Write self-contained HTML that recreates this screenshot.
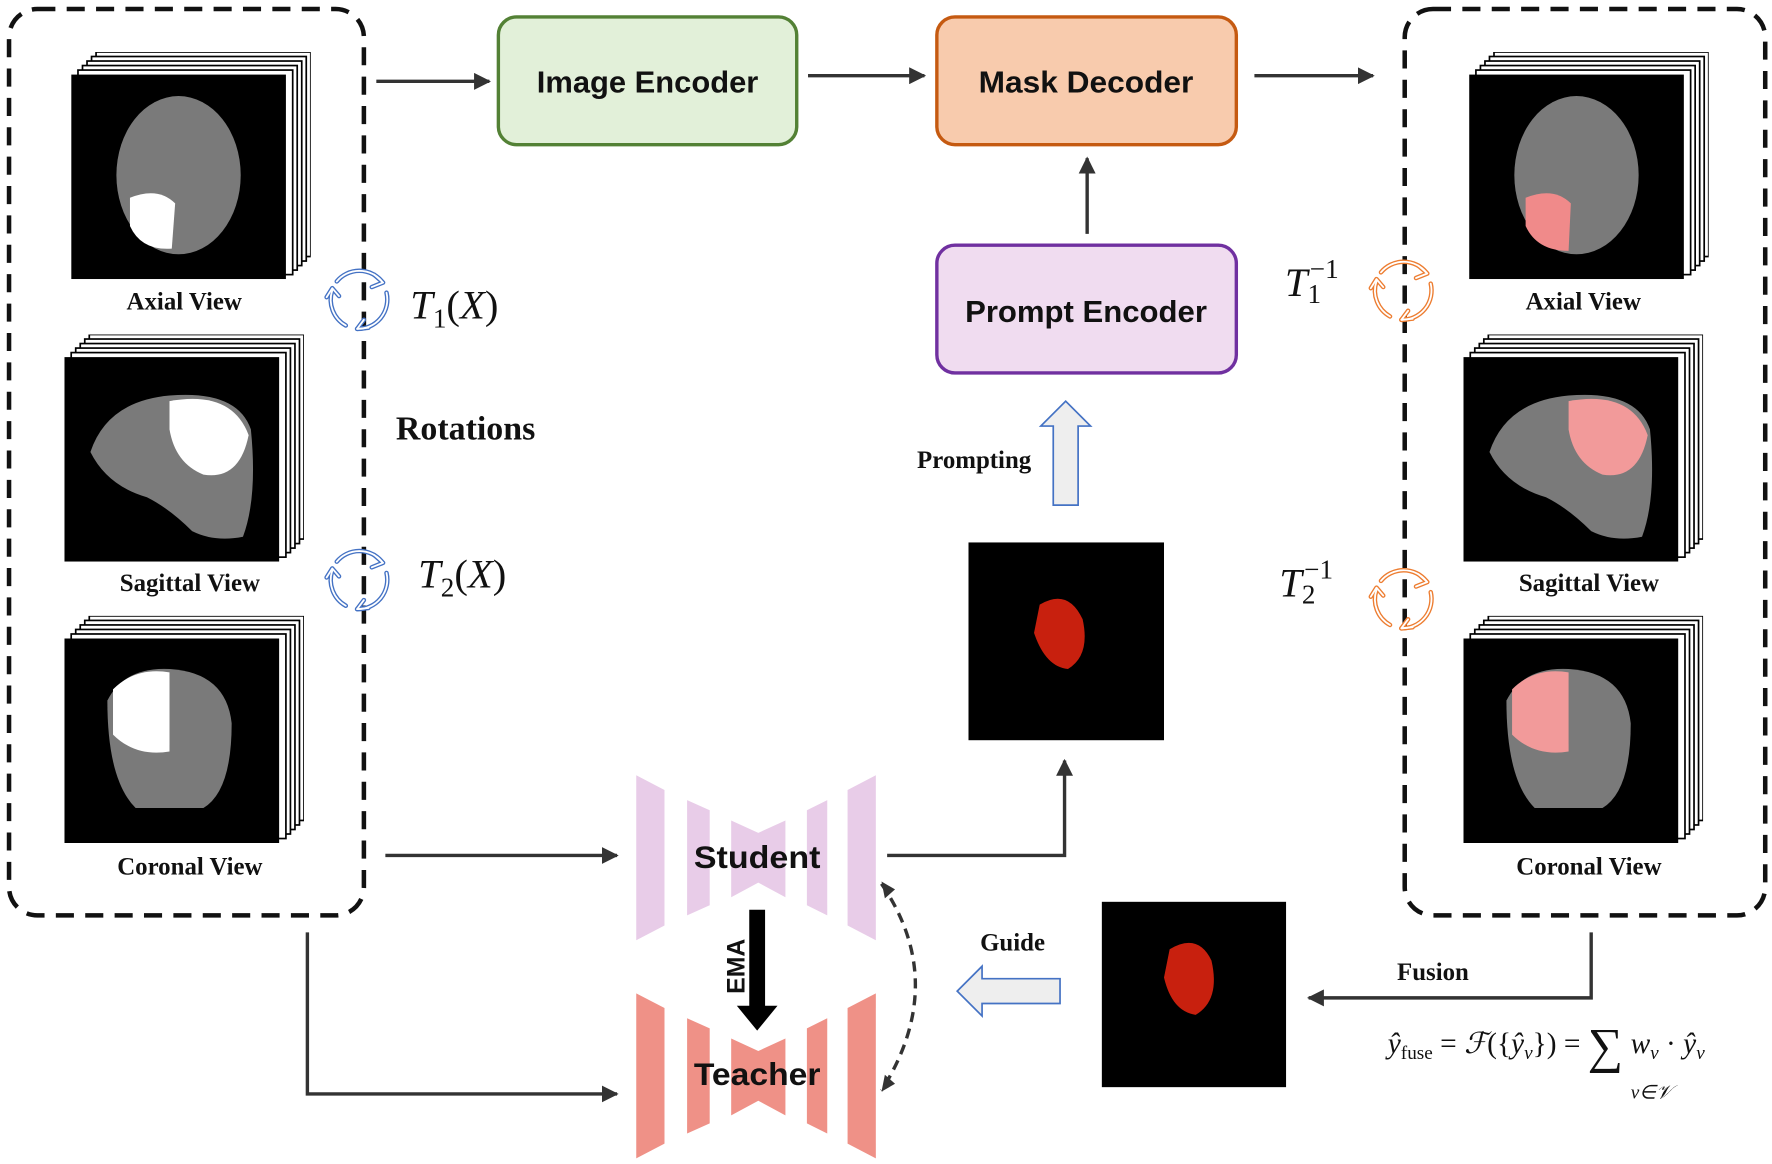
<!DOCTYPE html>
<html><head><meta charset="utf-8"><style>html,body{margin:0;padding:0;background:#fff}svg{display:block}</style></head><body>
<svg width="1772" height="1164" viewBox="0 0 1568 1030" preserveAspectRatio="none" xmlns="http://www.w3.org/2000/svg" font-family="Liberation Serif, serif">
<defs>
<marker id="ah" viewBox="0 0 10 10" refX="9" refY="5" markerWidth="5" markerHeight="5" orient="auto"><path d="M0,0L10,5L0,10z" fill="#333"/></marker>
<symbol id="stack" viewBox="0 0 212 201"><g fill="#fff" stroke="#000" stroke-width="1.5">
<rect x="22" y="0" width="190" height="181"/><rect x="18" y="4" width="190" height="181"/><rect x="14" y="8" width="190" height="181"/><rect x="10" y="12" width="190" height="181"/><rect x="6" y="16" width="190" height="181"/></g>
<rect x="0" y="20" width="190" height="181" fill="#000"/></symbol>
<g id="rot">
<path d="M-20,-16 A26,26 0 0 1 20,-16" /><path d="M24,-6 A26,26 0 0 1 -2,26"/><path d="M-12,23 A26,26 0 0 1 -24,-8"/>
<path d="M13,-22 L21,-15 L11,-11" /><path d="M8,25 L-2,26 L4,18"/><path d="M-29,-2 L-24,-10 L-18,-3"/>
</g>
</defs>
<rect x="8" y="8" width="314" height="802" rx="25" fill="none" stroke="#111" stroke-width="4" stroke-dasharray="16,10"/>
<rect x="1243" y="8" width="319" height="802" rx="25" fill="none" stroke="#111" stroke-width="4" stroke-dasharray="16,10"/>
<use href="#stack" x="63" y="46" width="212" height="201"/>
<ellipse cx="158" cy="155" rx="55" ry="70" fill="#7a7a7a"/><path d="M115,175 Q140,165 155,180 L152,220 Q125,222 115,200z" fill="#fff"/>
<use href="#stack" x="57" y="296" width="212" height="201"/>
<path d="M80,400 Q95,355 150,350 Q210,345 222,380 Q228,440 215,475 Q190,480 170,470 Q150,450 130,440 Q95,430 80,400z" fill="#7a7a7a"/><path d="M150,355 Q205,345 220,385 Q212,425 180,420 Q155,410 150,380z" fill="#fff"/>
<use href="#stack" x="57" y="545" width="212" height="201"/>
<path d="M95,620 Q110,590 150,592 Q200,595 205,640 Q205,700 180,715 L120,715 Q95,690 95,620z" fill="#7a7a7a"/><path d="M100,610 Q120,590 150,595 L150,665 Q120,670 100,650z" fill="#fff"/>
<g font-weight="bold" font-size="22" text-anchor="middle" fill="#111">
<text x="163" y="274">Axial View</text><text x="168" y="523">Sagittal View</text><text x="168" y="774">Coronal View</text>
<text x="1401" y="274">Axial View</text><text x="1406" y="523">Sagittal View</text><text x="1406" y="774">Coronal View</text>
<text x="412" y="389" font-size="30">Rotations</text>
<text x="862" y="414" font-size="22">Prompting</text>
<text x="896" y="841" font-size="22">Guide</text>
<text x="1268" y="867" font-size="22">Fusion</text>
</g>
<use href="#stack" x="1300" y="46" width="212" height="201"/>
<ellipse cx="1395" cy="155" rx="55" ry="70" fill="#7a7a7a"/><path d="M1350,175 Q1375,165 1390,180 L1388,222 Q1360,222 1350,200z" fill="#f08a8a"/>
<use href="#stack" x="1295" y="296" width="212" height="201"/>
<path d="M1318,400 Q1333,355 1388,350 Q1448,345 1460,380 Q1466,440 1453,475 Q1428,480 1408,470 Q1388,450 1368,440 Q1333,430 1318,400z" fill="#7a7a7a"/><path d="M1388,355 Q1443,345 1458,385 Q1450,425 1418,420 Q1393,410 1388,380z" fill="#f29a9a"/>
<use href="#stack" x="1295" y="545" width="212" height="201"/>
<path d="M1333,620 Q1348,590 1388,592 Q1438,595 1443,640 Q1443,700 1418,715 L1358,715 Q1333,690 1333,620z" fill="#7a7a7a"/><path d="M1338,610 Q1358,590 1388,595 L1388,665 Q1358,670 1338,650z" fill="#f29a9a"/>
<g font-family="Liberation Sans, sans-serif" font-weight="bold" font-size="27" text-anchor="middle" fill="#111">
<rect x="441" y="15" width="264" height="113" rx="16" fill="#e2f0d9" stroke="#538135" stroke-width="3"/><text x="573" y="82" textLength="196" lengthAdjust="spacingAndGlyphs">Image Encoder</text>
<rect x="829" y="15" width="265" height="113" rx="16" fill="#f8cbad" stroke="#c55a11" stroke-width="3"/><text x="961" y="82" textLength="190" lengthAdjust="spacingAndGlyphs">Mask Decoder</text>
<rect x="829" y="217" width="265" height="113" rx="16" fill="#f0dcf0" stroke="#7030a0" stroke-width="3"/><text x="961" y="285" textLength="214" lengthAdjust="spacingAndGlyphs">Prompt Encoder</text>
</g>
<g stroke="#333" stroke-width="3" fill="none" marker-end="url(#ah)">
<path d="M333,72H433"/><path d="M715,67H818"/><path d="M1110,67H1215"/><path d="M962,207V140"/>
<path d="M341,757H546"/><path d="M785,757H942V673"/><path d="M272,825V968H546"/><path d="M1408,825V883H1158"/>
</g>
<path d="M780,782 Q840,870 780,965" fill="none" stroke="#333" stroke-width="3" stroke-dasharray="9,6"/>
<path d="M780,780l3,15l9,-8z M780,966l3,-15l9,8z" fill="#333"/>
<path d="M932,447V377H921L943,355L965,377H954V447z" fill="#eee" stroke="#4472c4" stroke-width="1.5"/>
<path d="M938,866H869V855L847,877L869,899V888H938z" fill="#eee" stroke="#4472c4" stroke-width="1.5"/>
<rect x="857" y="480" width="173" height="175" fill="#000"/><path d="M920,535 Q945,520 958,548 Q965,580 945,592 Q925,590 915,560z" fill="#c8200e"/>
<rect x="975" y="798" width="163" height="164" fill="#000"/><path d="M1035,840 Q1060,825 1072,850 Q1080,885 1058,898 Q1037,895 1030,865z" fill="#c8200e"/>
<g fill="#e8cce8">
<path d="M563,686L588,699V819L563,832z"/><path d="M608,708L628,717V801L608,810z"/>
<path d="M647,726L671,737L695,726V794L671,781L647,794z"/>
<path d="M714,717L732,708V810L714,801z"/><path d="M750,699L775,686V832L750,819z"/>
</g>
<g transform="translate(0,193)" fill="#ef9187">
<path d="M563,686L588,699V819L563,832z"/><path d="M608,708L628,717V801L608,810z"/>
<path d="M647,726L671,737L695,726V794L671,781L647,794z"/>
<path d="M714,717L732,708V810L714,801z"/><path d="M750,699L775,686V832L750,819z"/>
</g>
<path d="M663,805H677V890H688L670,912L652,890H663z" fill="#000"/>
<g font-family="Liberation Sans, sans-serif" font-weight="bold" fill="#111" font-size="28" text-anchor="middle">
<text x="670" y="768" textLength="112" lengthAdjust="spacingAndGlyphs">Student</text><text x="670" y="960" textLength="112" lengthAdjust="spacingAndGlyphs">Teacher</text>
<text transform="translate(659,855) rotate(-90)" font-size="22">EMA</text>
</g>
<g fill="none" stroke-width="4" stroke-linecap="round" stroke-linejoin="round">
<g stroke="#4472c4"><use href="#rot" x="318" y="265"/><use href="#rot" x="318" y="513"/></g>
<g stroke="#ed7d31"><use href="#rot" x="1242" y="257"/><use href="#rot" x="1242" y="530"/></g>
</g>
<g fill="none" stroke-width="1.6" stroke="#fff" stroke-linecap="round" stroke-linejoin="round">
<use href="#rot" x="318" y="265"/><use href="#rot" x="318" y="513"/><use href="#rot" x="1242" y="257"/><use href="#rot" x="1242" y="530"/>
</g>
<g font-style="italic" font-size="36" fill="#111">
<text x="363" y="282">T<tspan font-size="24" dy="8" font-style="normal">1</tspan><tspan dy="-8" font-style="normal">(</tspan>X<tspan font-style="normal">)</tspan></text>
<text x="370" y="520">T<tspan font-size="24" dy="8" font-style="normal">2</tspan><tspan dy="-8" font-style="normal">(</tspan>X<tspan font-style="normal">)</tspan></text>
<text x="1137" y="262">T<tspan font-size="24" dy="6" font-style="normal">1</tspan><tspan font-size="24" dy="-22" dx="-10" font-style="normal">−1</tspan></text>
<text x="1132" y="528">T<tspan font-size="24" dy="6" font-style="normal">2</tspan><tspan font-size="24" dy="-22" dx="-10" font-style="normal">−1</tspan></text>
</g>
<g font-style="italic" font-size="26" fill="#111">
<text x="1228" y="932">ŷ<tspan font-size="17" font-style="normal" dy="5">fuse</tspan><tspan font-style="normal" dy="-5"> = </tspan>ℱ<tspan font-style="normal">({</tspan>ŷ<tspan font-size="17" dy="5">v</tspan><tspan font-style="normal" dy="-5">}) = </tspan><tspan font-style="normal" font-size="44" dy="8">∑</tspan><tspan dy="-8"> w</tspan><tspan font-size="17" dy="5">v</tspan><tspan font-style="normal" dy="-5"> · </tspan>ŷ<tspan font-size="17" dy="5">v</tspan></text>
<text x="1443" y="972" font-size="17">v∈𝒱</text>
</g>
</svg>
</body></html>
